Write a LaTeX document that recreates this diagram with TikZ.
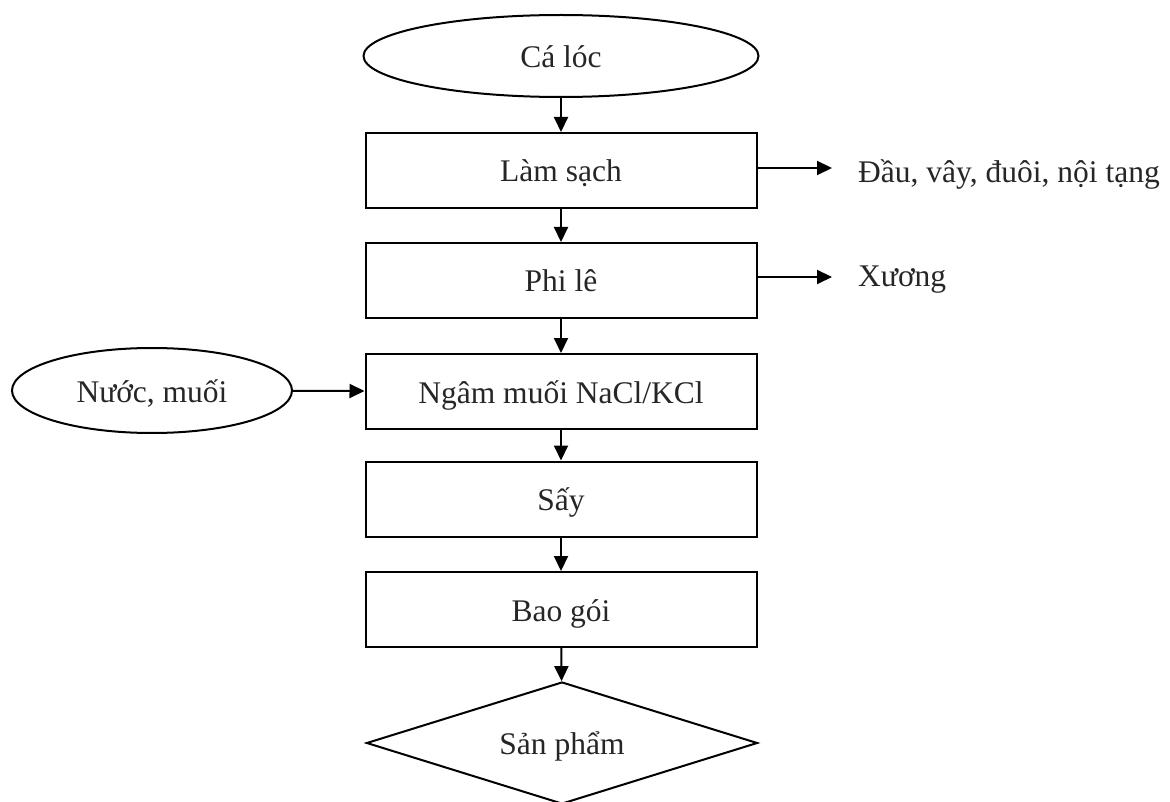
\documentclass[tikz,border=0pt]{standalone}
\usepackage{fontspec}
\setmainfont{Liberation Serif}
\usetikzlibrary{shapes.geometric,arrows.meta}
\begin{document}
\begin{tikzpicture}[x=1pt,y=-1pt,
  every node/.style={font=\fontsize{31.5}{36}\selectfont, text=black!85},
  shp/.style={draw, line width=2pt, inner sep=0pt, text height=23pt, text depth=0pt},
  stepbox/.style={shp, rectangle, minimum width=391pt, minimum height=75pt},
  oval/.style={shp, ellipse},
  prod/.style={shp, diamond, shape aspect=3.2, minimum width=391pt, minimum height=122pt},
  arr/.style={line width=2pt, -{Triangle[length=15pt,width=14pt]}},
  lbl/.style={anchor=base west, inner sep=0pt}]
\useasboundingbox (0,0) rectangle (1170,802);
\node[oval, minimum width=395pt, minimum height=82pt] (ca) at (561,56) {Cá lóc};
\node[stepbox] (lam) at (561,170.5) {Làm sạch};
\node[stepbox] (phi) at (561,280.5) {Phi lê};
\node[stepbox] (ngam) at (561,391.5) {Ngâm muối NaCl/KCl};
\node[stepbox] (say) at (561,499) {Sấy};
\node[stepbox] (bao) at (561,609.5) {Bao gói};
\node[prod] (sp) at (562,743) {Sản phẩm};
\node[oval, minimum width=280pt, minimum height=85pt] (nuoc) at (152,390.5) {Nước, muối};
\node[lbl] (dau) at (858,183) {Đầu, vây, đuôi, nội tạng};
\node[lbl] (xuong) at (858,287) {Xương};
\coordinate (d1) at (832,168);
\coordinate (d2) at (832,277);
\draw[arr] (ca) -- (lam);
\draw[arr] (lam) -- (phi);
\draw[arr] (phi) -- (ngam);
\draw[arr] (ngam) -- (say);
\draw[arr] (say) -- (bao);
\draw[arr] (bao) -- (sp);
\draw[arr] (nuoc) -- (ngam);
\draw[arr] (lam.east |- d1) -- (d1);
\draw[arr] (phi.east |- d2) -- (d2);
\end{tikzpicture}
\end{document}
